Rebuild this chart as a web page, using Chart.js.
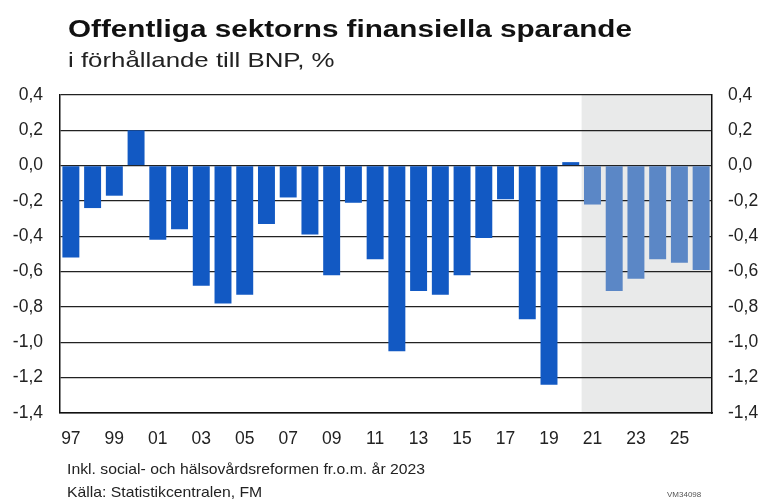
<!DOCTYPE html>
<html>
<head>
<meta charset="utf-8">
<script src="https://cdn.jsdelivr.net/npm/chart.js@4.4.1/dist/chart.umd.min.js"></script>
<style>
  body { margin: 0; background: #fff; font-family: "Liberation Sans", Arial, sans-serif; }
  #wrap { position: relative; width: 760px; height: 502px; }
  #chart { position: absolute; left: 0; top: 0; }
  .txt { position: absolute; white-space: nowrap; color: #111; transform-origin: left top; }
  #title { left: 68px; top: 16px; font-size: 23px; font-weight: bold; transform: scaleX(1.29); }
  #subtitle { left: 68px; top: 48px; font-size: 21px; color: #222; transform: scaleX(1.23); }
  #note1 { left: 67px; top: 460px; font-size: 15px; color: #222; transform: scaleX(1.05); }
  #note2 { left: 67px; top: 483px; font-size: 15px; color: #222; transform: scaleX(1.05); }
  #code { left: 667px; top: 490px; font-size: 8px; color: #555; }
</style>
</head>
<body>
<div id="wrap">
  <canvas id="chart" width="760" height="502"></canvas>
  <div class="txt" id="title">Offentliga sektorns finansiella sparande</div>
  <div class="txt" id="subtitle">i förhållande till BNP, %</div>
  <div class="txt" id="note1">Inkl. social- och hälsovårdsreformen fr.o.m. år 2023</div>
  <div class="txt" id="note2">Källa: Statistikcentralen, FM</div>
  <div class="txt" id="code">VM34098</div>
</div>
<script>
const years = ["97", "98", "99", "00", "01", "02", "03", "04", "05", "06",
  "07", "08", "09", "10", "11", "12", "13", "14", "15", "16",
  "17", "18", "19", "20", "21", "22", "23", "24", "25", "26"];
const saving = [-0.52, -0.24, -0.17, 0.20, -0.42, -0.36, -0.68, -0.78, -0.73, -0.33,
  -0.18, -0.39, -0.62, -0.21, -0.53, -1.05, -0.71, -0.73, -0.62, -0.41,
  -0.19, -0.87, -1.24, 0.02, -0.22, -0.71, -0.64, -0.53, -0.55, -0.59];
const firstForecast = "21";

const forecastIdx = years.indexOf(firstForecast);
const barColors = years.map((y, i) => i >= forecastIdx ? "#5B87C6" : "#1259C3");

// grey background behind the forecast years
const forecastShade = {
  id: "forecastShade",
  beforeDraw(chart) {
    const x = chart.scales.x, area = chart.chartArea, ctx = chart.ctx;
    const half = (x.getPixelForValue(1) - x.getPixelForValue(0)) / 2;
    const left = x.getPixelForValue(forecastIdx) - half;
    ctx.save();
    ctx.fillStyle = "#E9EAEA";
    ctx.fillRect(left, area.top, area.right - left, area.bottom - area.top);
    ctx.restore();
  }
};

const tickFont = { family: "'Liberation Sans', Arial, sans-serif", size: 17.5 };
const fmt = v => v.toFixed(1).replace(".", ",");

new Chart(document.getElementById("chart"), {
  type: "bar",
  data: {
    labels: years,
    datasets: [{
      data: saving,
      backgroundColor: barColors,
      borderColor: barColors,
      borderWidth: 0,
      categoryPercentage: 1.0,
      barPercentage: 0.78
    }]
  },
  plugins: [forecastShade],
  options: {
    responsive: false,
    animation: false,
    layout: { padding: { top: 95, left: 0, right: 0, bottom: 0 } },
    plugins: { legend: { display: false }, tooltip: { enabled: false } },
    scales: {
      x: {
        grid: { display: false, drawTicks: false },
        border: { display: true, color: "#111", width: 1.5 },
        ticks: {
          autoSkip: false, maxRotation: 0, padding: 16, color: "#222", font: tickFont,
          callback: (v, i) => i % 2 === 0 ? years[i] : ""
        },
        afterFit: s => { s.height = 89; }
      },
      y: {
        position: "left",
        min: -1.4, max: 0.4,
        grid: { color: "#222", lineWidth: 1.2, drawTicks: false },
        border: { display: true, color: "#111", width: 1.5 },
        ticks: { stepSize: 0.2, padding: 17, color: "#222", font: tickFont, callback: fmt },
        afterFit: s => { s.width = 60; }
      },
      y2: {
        position: "right",
        min: -1.4, max: 0.4,
        grid: { display: false, drawTicks: false },
        border: { display: true, color: "#111", width: 1.5 },
        ticks: { stepSize: 0.2, padding: 16, color: "#222", font: tickFont, callback: fmt },
        afterFit: s => { s.width = 48; }
      }
    }
  }
});
</script>
</body>
</html>
